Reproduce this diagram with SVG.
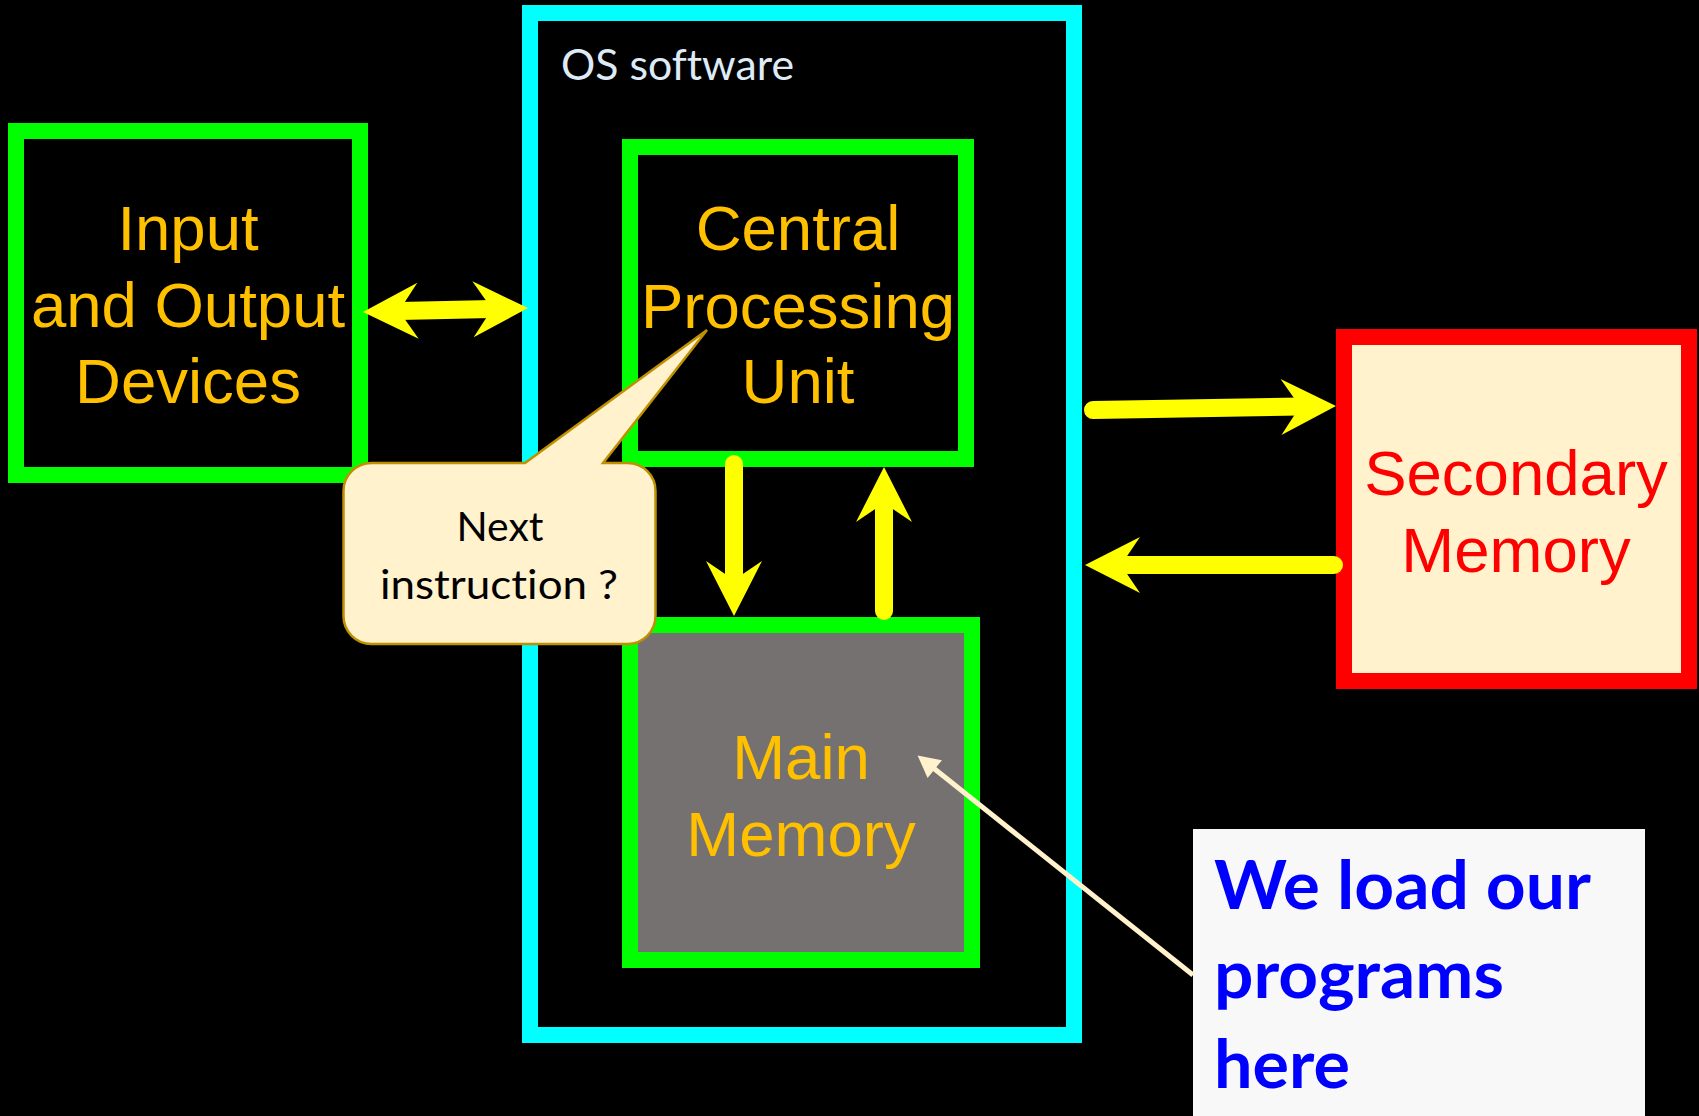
<svg xmlns="http://www.w3.org/2000/svg" width="1699" height="1116" viewBox="0 0 1699 1116">
  <style>
    .bg { fill: #000000; }
    .box { stroke-width: 16; }
    .green { fill: #000000; stroke: #00FF00; }
    .label { font-family: "Liberation Sans", Arial, sans-serif; font-size: 63.5px; text-anchor: middle; }
    .orange { fill: #FFC000; }
    .red { fill: #FF0000; }
    .calibri { font-family: Lato, "Open Sans", sans-serif; font-variant-ligatures: none; font-feature-settings: "liga" 0, "clig" 0; }
    .flow { fill: none; stroke: #FFFF00; stroke-width: 18; stroke-linecap: round; }
    .pointer { fill: none; stroke: #FFF2CC; stroke-width: 5; stroke-linecap: butt; }
  </style>
  <defs>
    <!-- stealth arrowhead: back barbs at x=0, tip at x=55, notch at x=19 -->
    <marker id="head" markerUnits="userSpaceOnUse" markerWidth="60" markerHeight="60"
            viewBox="0 -30 60 60" refX="19" refY="0" orient="auto-start-reverse" overflow="visible">
      <path d="M0,-28 L55,0 L0,28 L19,0 Z" fill="#FFFF00"/>
    </marker>
    <marker id="tri" markerUnits="userSpaceOnUse" markerWidth="26" markerHeight="26"
            viewBox="0 -13 26 26" refX="1" refY="0" orient="auto" overflow="visible">
      <path d="M0,-11.5 L22,0 L0,11.5 Z" fill="#FFF2CC"/>
    </marker>
  </defs>

  <rect class="bg" x="0" y="0" width="1699" height="1116"/>

  <!-- operating system boundary -->
  <g id="os-software">
    <rect x="530" y="13" width="544" height="1022" fill="#000000" stroke="#00FFFF" stroke-width="16"/>
    <text class="calibri" x="561" y="80" font-size="42" fill="#DEEBF7" textLength="233" lengthAdjust="spacingAndGlyphs">OS software</text>
  </g>

  <g id="io-devices">
    <rect class="box green" x="16" y="131" width="344" height="344"/>
    <text class="label orange" x="188" y="250">Input</text>
    <text class="label orange" x="188" y="327">and Output</text>
    <text class="label orange" x="188" y="403">Devices</text>
  </g>

  <g id="cpu">
    <rect class="box green" x="630" y="147" width="336" height="312"/>
    <text class="label orange" x="798" y="250">Central</text>
    <text class="label orange" x="798" y="328">Processing</text>
    <text class="label orange" x="798" y="403">Unit</text>
  </g>

  <g id="main-memory">
    <rect class="box" x="630" y="625" width="342" height="335" fill="#767171" stroke="#00FF00"/>
    <text class="label orange" x="801" y="779">Main</text>
    <text class="label orange" x="801" y="856">Memory</text>
  </g>

  <g id="secondary-memory">
    <rect class="box" x="1344" y="337" width="345" height="344" fill="#FFF2CC" stroke="#FF0000"/>
    <text class="label red" x="1516" y="495">Secondary</text>
    <text class="label red" x="1516" y="572">Memory</text>
  </g>

  <g id="note">
    <rect x="1193" y="829" width="452" height="300" fill="#F8F8F8"/>
    <g class="calibri" font-size="66" font-weight="bold" fill="#0000FF">
      <text x="1214" y="909" textLength="377" lengthAdjust="spacingAndGlyphs">We load our</text>
      <text x="1214" y="998" textLength="290" lengthAdjust="spacingAndGlyphs">programs</text>
      <text x="1214" y="1088" textLength="136" lengthAdjust="spacingAndGlyphs">here</text>
    </g>
  </g>

  <g id="connectors">
    <!-- IO <-> OS -->
    <line class="flow" x1="399" y1="311.1" x2="492" y2="308.9" marker-start="url(#head)" marker-end="url(#head)"/>
    <!-- OS -> secondary memory -->
    <line class="flow" x1="1093" y1="410" x2="1300" y2="406.6" marker-end="url(#head)"/>
    <!-- secondary memory -> OS -->
    <line class="flow" x1="1334" y1="565" x2="1121" y2="565" marker-end="url(#head)"/>
    <!-- CPU -> main memory -->
    <line class="flow" x1="734" y1="464" x2="734" y2="580" marker-end="url(#head)"/>
    <!-- main memory -> CPU -->
    <line class="flow" x1="884" y1="611" x2="884" y2="503" marker-end="url(#head)"/>
    <!-- note pointer -->
    <line class="pointer" x1="1193" y1="975" x2="934" y2="768.5" marker-end="url(#tri)"/>
  </g>

  <g id="callout">
    <path d="M371.5,463 L525,463 L707,330 L603,463 L627.5,463 A28,28 0 0 1 655.5,491 L655.5,616 A28,28 0 0 1 627.5,644 L371.5,644 A28,28 0 0 1 343.5,616 L343.5,491 A28,28 0 0 1 371.5,463 Z"
          fill="#FFF2CC" stroke="#BF9000" stroke-width="2.5" stroke-linejoin="miter"/>
    <g class="calibri" font-size="40" fill="#000000" text-anchor="middle">
      <text x="500" y="541" textLength="87" lengthAdjust="spacingAndGlyphs">Next</text>
      <text x="499" y="599" textLength="238" lengthAdjust="spacingAndGlyphs">instruction ?</text>
    </g>
  </g>
</svg>
